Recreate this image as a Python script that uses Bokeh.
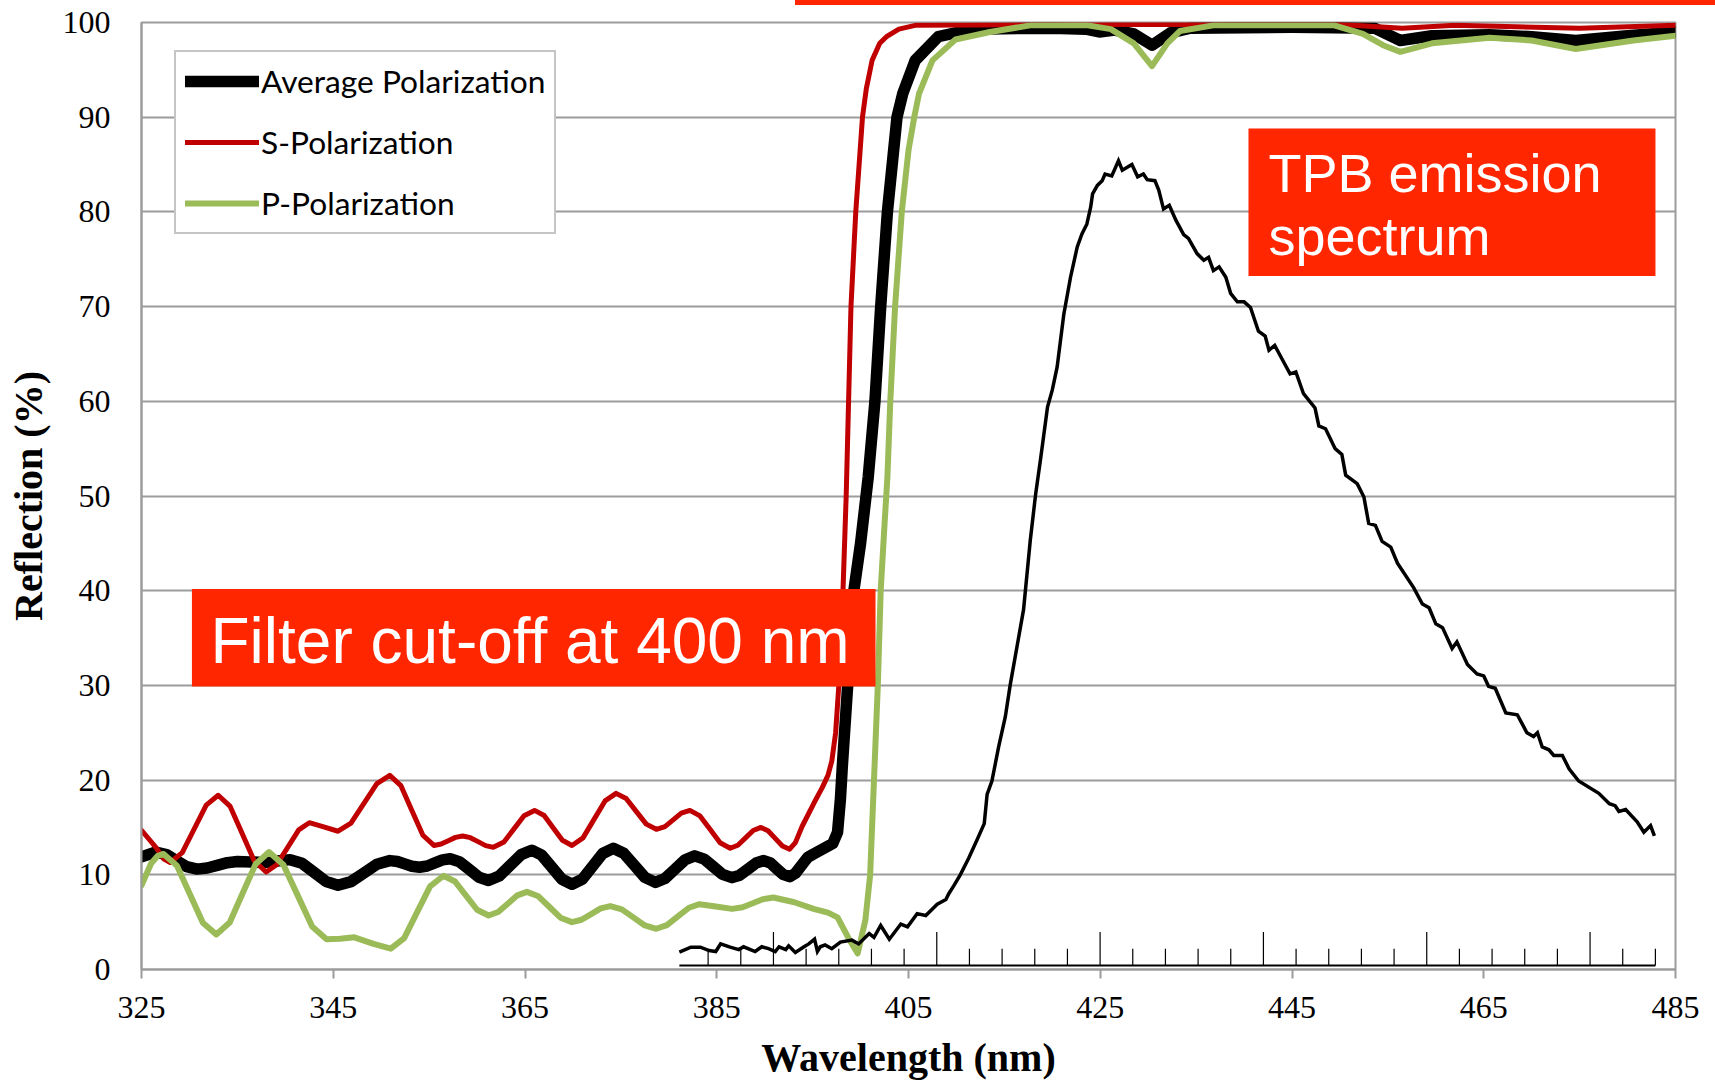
from bokeh.plotting import figure
from bokeh.layouts import column
from bokeh.models import Range1d, FixedTicker, Label, BoxAnnotation, Legend, LegendItem, Div
from bokeh.embed import file_html
from bokeh.resources import INLINE

# ---------------- data ----------------
# Average polarization reflection (%)
avg_wl = [325.0, 326.5, 327.6, 328.65, 329.7, 330.8, 331.85, 332.9, 333.95, 335.0, 336.4, 337.8,
          339.15, 340.5, 341.75, 343.0, 344.25, 345.5, 346.85, 348.2, 349.55, 350.9, 351.7, 352.45,
          353.2, 354.0, 354.8, 355.6, 356.4, 357.2, 358.2, 359.2, 360.2, 361.2, 362.3, 363.45,
          364.6, 365.7, 366.75, 367.8, 368.85, 369.9, 371.0, 372.05, 373.1, 374.2, 375.3, 376.4,
          377.5, 378.6, 379.6, 380.65, 381.7, 382.7, 383.7, 384.65, 385.6, 386.6, 387.4, 388.25,
          389.1, 389.9, 390.6, 391.25, 391.9, 392.6, 393.2, 393.85, 394.5, 395.1, 396.1, 397.1,
          397.6, 397.9, 398.1, 398.7, 399.3, 400.0, 400.8, 401.5, 402.1, 402.8, 403.8, 404.4,
          405.7, 408.1, 411.7, 420.0, 423.5, 424.9, 426.5, 428.5, 430.4, 432.3, 434.4, 445.0,
          453.6, 456.3, 459.6, 465.6, 470.0, 474.6, 480.0, 485.0]
avg_val = [11.9, 12.4, 12.14, 11.5, 10.86, 10.6, 10.72, 11.0, 11.28, 11.4, 11.35, 11.3,
           11.45, 11.6, 11.21, 10.25, 9.29, 8.9, 9.28, 10.2, 11.12, 11.5, 11.4, 11.15,
           10.9, 10.8, 10.93, 11.25, 11.57, 11.7, 11.36, 10.55, 9.74, 9.4, 9.87, 11.0,
           12.13, 12.6, 12.07, 10.8, 9.53, 9.0, 9.55, 10.9, 12.25, 12.8, 12.27, 11.0,
           9.73, 9.2, 9.61, 10.6, 11.59, 12.0, 11.66, 10.85, 10.04, 9.7, 9.96, 10.6,
           11.24, 11.5, 11.25, 10.65, 10.05, 9.8, 10.15, 11.0, 11.85, 12.2, 12.75, 13.3,
           14.5, 18.0, 21.5, 30.7, 40.0, 45.0, 52.0, 60.0, 70.0, 80.0, 90.0, 92.5,
           96.0, 98.5, 99.3, 99.4, 99.3, 99.0, 99.2, 98.8, 97.6, 98.9, 99.4, 99.5,
           99.4, 98.1, 98.6, 98.7, 98.5, 98.1, 98.6, 99.0]

# S-polarization reflection (%)
s_wl = [325.0, 326.5, 327.3, 328.0, 329.25, 330.5, 331.75, 333.0, 334.25, 335.5, 336.75, 338.0,
        339.1, 340.25, 341.4, 342.5, 344.0, 345.5, 346.85, 348.2, 349.55, 350.9, 352.05, 353.2,
        354.35, 355.5, 356.25, 357.0, 357.75, 358.5, 359.3, 360.1, 360.9, 361.7, 362.8, 363.85,
        364.9, 366.0, 367.0, 367.95, 368.9, 369.9, 371.05, 372.2, 373.35, 374.5, 375.55, 376.6,
        377.65, 378.7, 379.6, 380.45, 381.3, 382.2, 383.25, 384.3, 385.35, 386.4, 387.2, 388.0,
        388.8, 389.6, 390.35, 391.1, 391.85, 392.6, 393.2, 393.9, 395.1, 396.0, 396.6, 397.0,
        397.4, 397.8, 398.1, 398.3, 398.5, 398.8, 399.0, 399.5, 400.2, 400.6, 401.2, 402.0,
        402.7, 404.0, 405.7, 420.0, 450.0, 456.5, 462.0, 475.0, 485.0]
s_val = [14.7, 12.9, 11.7, 11.3, 12.34, 14.85, 17.36, 18.4, 17.22, 14.35, 11.48, 10.3,
         11.06, 12.9, 14.74, 15.5, 15.05, 14.6, 15.46, 17.55, 19.64, 20.5, 19.42, 16.8,
         14.18, 13.1, 13.25, 13.6, 13.95, 14.1, 13.92, 13.5, 13.08, 12.9, 13.47, 14.85,
         16.23, 16.8, 16.26, 14.95, 13.64, 13.1, 13.9, 15.85, 17.8, 18.6, 18.05, 16.7,
         15.35, 14.8, 15.09, 15.8, 16.51, 16.8, 16.22, 14.8, 13.38, 12.8, 13.12, 13.9,
         14.68, 15.0, 14.66, 13.85, 13.04, 12.7, 13.4, 15.1, 17.5, 19.2, 20.5, 22.0,
         25.0, 31.0, 38.0, 44.0, 50.0, 62.0, 70.0, 80.0, 90.0, 93.0, 96.0, 97.8,
         98.5, 99.3, 99.7, 99.8, 99.8, 99.4, 99.7, 99.4, 99.7]

# P-polarization reflection (%)
p_wl = [325.0, 326.0, 326.7, 327.3, 328.7, 330.05, 331.4, 332.8, 334.2, 335.55, 336.9, 338.3,
        339.8, 341.3, 342.8, 344.3, 345.7, 347.2, 349.2, 351.0, 352.4, 353.75, 355.1, 356.5,
        357.7, 358.85, 360.0, 361.2, 362.2, 363.2, 364.2, 365.2, 366.4, 367.55, 368.7, 369.9,
        370.9, 371.9, 372.9, 373.9, 375.1, 376.3, 377.5, 378.7, 379.8, 380.95, 382.1, 383.2,
        384.9, 386.6, 387.7, 388.75, 389.8, 390.9, 393.1, 395.1, 396.6, 397.6, 398.8, 399.7,
        400.5, 401.0, 401.4, 401.8, 402.1, 402.5, 402.8, 403.1, 403.6, 404.3, 405.0, 405.6,
        406.1, 407.5, 409.9, 413.5, 417.7, 423.7, 426.1, 428.5, 430.4, 432.0, 433.3, 436.8,
        449.4, 452.4, 454.5, 456.3, 459.6, 465.6, 470.0, 474.6, 480.6, 485.0]
p_val = [8.9, 11.2, 12.0, 12.2, 10.96, 7.95, 4.94, 3.7, 4.97, 8.05, 11.13, 12.4,
         11.06, 7.8, 4.54, 3.2, 3.25, 3.4, 2.7, 2.2, 3.32, 6.05, 8.78, 9.9,
         9.29, 7.8, 6.31, 5.7, 6.07, 6.95, 7.83, 8.2, 7.73, 6.6, 5.47, 5.0,
         5.25, 5.85, 6.45, 6.7, 6.35, 5.5, 4.65, 4.3, 4.68, 5.6, 6.52, 6.9,
         6.65, 6.4, 6.58, 7.0, 7.42, 7.6, 7.1, 6.4, 6.0, 5.5, 3.2, 1.7,
         5.2, 10.0, 20.0, 30.0, 40.0, 47.0, 52.0, 60.0, 70.0, 80.0, 86.5, 90.0,
         92.5, 96.0, 98.2, 99.0, 99.7, 99.7, 99.3, 97.8, 95.4, 97.8, 99.1, 99.7,
         99.7, 98.8, 97.6, 96.9, 97.8, 98.4, 98.1, 97.2, 98.1, 98.6]

# TPB emission spectrum (arbitrary units, drawn on the reflection scale)
em_wl = [381.1, 382.3, 383.3, 384.2, 384.9, 385.4, 386.4, 387.3, 387.8, 389.0, 389.7, 390.4,
         391.1, 391.5, 392.2, 392.5, 393.2, 394.1, 394.6, 395.2, 395.5, 395.8, 396.3, 397.0,
         397.9, 399.1, 399.8, 400.9, 401.4, 402.1, 403.0, 404.2, 404.9, 405.9, 406.8, 408.0,
         408.9, 409.2, 409.7, 410.4, 411.3, 412.2, 412.9, 413.2, 413.7, 414.4, 415.1, 415.6,
         416.3, 417.0, 417.7, 418.25, 418.8, 419.5, 420.0, 420.5, 421.2, 421.9, 422.6, 423.1,
         423.6, 424.0, 424.2, 424.7, 425.2, 425.5, 426.2, 426.9, 427.3, 428.3, 428.9, 429.5,
         429.9, 430.7, 431.1, 431.6, 432.2, 432.9, 433.7, 434.2, 435.1, 435.8, 436.3, 436.8,
         437.4, 438.1, 438.6, 439.3, 440.0, 440.67, 441.5, 442.2, 442.6, 443.2, 444.1, 444.8,
         445.4, 446.2, 447.4, 447.8, 448.5, 449.5, 450.2, 450.6, 451.8, 452.5, 453.0, 453.7,
         454.4, 455.3, 456.0, 457.7, 458.6, 459.3, 460.0, 460.7, 461.7, 462.2, 463.3, 464.3,
         465.0, 465.5, 466.2, 467.3, 468.5, 469.5, 470.2, 470.6, 471.1, 471.8, 472.3, 473.2,
         473.9, 474.9, 477.0, 478.1, 478.7, 479.1, 479.8, 481.0, 481.7, 482.4, 482.8]
em_val = [1.83, 2.36, 2.36, 2.0, 1.9, 2.7, 2.36, 2.1, 2.4, 1.9, 2.4, 2.2,
          1.9, 2.4, 2.1, 2.5, 1.8, 2.4, 2.7, 3.2, 1.9, 2.4, 2.6, 2.2,
          2.9, 3.1, 2.7, 3.8, 3.4, 4.65, 3.2, 4.8, 4.5, 5.9, 5.7, 6.9,
          7.4, 8.0, 8.8, 10.0, 11.8, 13.8, 15.4, 18.5, 19.9, 23.5, 26.7, 30.0,
          34.0, 38.0, 45.3, 50.1, 54.1, 59.4, 61.2, 63.6, 69.2, 73.1, 76.3, 77.7,
          78.7, 80.5, 81.9, 82.8, 83.3, 84.0, 83.8, 85.4, 84.4, 85.0, 83.7, 84.0,
          83.4, 83.3, 82.3, 80.3, 80.7, 79.1, 77.6, 77.2, 75.6, 74.9, 75.2, 73.8,
          74.2, 73.1, 71.4, 70.5, 70.5, 69.9, 67.4, 66.9, 65.4, 65.9, 64.2, 62.9,
          63.1, 60.8, 59.3, 57.4, 57.1, 55.0, 54.4, 52.2, 51.3, 49.9, 47.1, 46.9,
          45.2, 44.6, 42.9, 40.3, 38.6, 38.2, 36.5, 36.1, 33.9, 34.6, 32.2, 31.2,
          31.0, 29.9, 29.7, 27.1, 26.9, 25.0, 24.6, 25.0, 23.5, 23.2, 22.6, 22.6,
          21.2, 19.9, 18.6, 17.5, 17.3, 16.7, 16.9, 15.6, 14.5, 15.2, 14.1]

# inset (emission spectrum) axis of the pasted graph
em_axis_from, em_axis_to, em_axis_level = 381.1, 482.9, 0.42
em_tick_first, em_tick_step, em_tick_count = 384.1, 3.407, 30
em_minor_top, em_major_top = 2.2, 3.95

x_ticks = [325, 345, 365, 385, 405, 425, 445, 465, 485]
y_ticks = [0, 10, 20, 30, 40, 50, 60, 70, 80, 90, 100]

GRAY = "#9c9c9c"
RED = "#FF2600"

# ---------------- thin red strip above the chart (part of the slide) ----------------
STRIP_H = 5
strip = Div(text="", width=1715, height=STRIP_H, margin=0,
            styles={"background-color": "#ffffff",
                    "background-image": ("linear-gradient(to right, #ffffff 0px, #ffffff 795px, "
                                         "%s 795px, %s 100%%)" % (RED, RED)),
                    "font-size": "0px", "line-height": "0px", "padding": "0px"})

# ---------------- main chart ----------------
p = figure(width=1715, height=1082 - STRIP_H, output_backend="svg", toolbar_location=None,
           x_range=Range1d(325, 485), y_range=Range1d(0, 100),
           min_border_left=141, min_border_right=40, min_border_top=22 - STRIP_H,
           min_border_bottom=113, margin=0)
p.background_fill_color = "white"
p.border_fill_color = "white"
p.outline_line_color = GRAY
p.outline_line_width = 2

p.xgrid.visible = False
p.ygrid.grid_line_color = GRAY
p.ygrid.grid_line_width = 2
p.ygrid.ticker = FixedTicker(ticks=y_ticks)

p.xaxis.ticker = FixedTicker(ticks=x_ticks)
p.yaxis.ticker = FixedTicker(ticks=y_ticks)
for ax in (p.xaxis[0], p.yaxis[0]):
    ax.axis_line_color = GRAY
    ax.axis_line_width = 2
    ax.major_tick_line_color = GRAY
    ax.major_tick_line_width = 2
    ax.minor_tick_line_color = None
    ax.major_tick_in = 0
    ax.major_label_text_font = "Liberation Serif"
    ax.major_label_text_font_size = "32px"
    ax.major_label_text_color = "black"
    ax.axis_label_text_font = "Liberation Serif"
    ax.axis_label_text_font_size = "40px"
    ax.axis_label_text_font_style = "bold"
    ax.axis_label_text_color = "black"
p.xaxis.major_tick_out = 9
p.xaxis.major_label_standoff = 18
p.xaxis.axis_label = "Wavelength (nm)"
p.xaxis.axis_label_standoff = 14
p.yaxis.major_tick_out = 0
p.yaxis.major_label_standoff = 31
p.yaxis.axis_label = "Reflection (%)"
p.yaxis.axis_label_standoff = 9

r_avg = p.line(avg_wl, avg_val, line_color="black", line_width=11.5, line_join="round", line_cap="round")
r_s = p.line(s_wl, s_val, line_color="#C00000", line_width=5, line_join="round", line_cap="round")
r_p = p.line(p_wl, p_val, line_color="#9BBB59", line_width=6, line_join="round", line_cap="round")

# emission spectrum with its inset axis
p.segment(x0=[em_axis_from], y0=[em_axis_level], x1=[em_axis_to], y1=[em_axis_level],
          line_color="black", line_width=2)
tick_x = [em_tick_first + k * em_tick_step for k in range(em_tick_count)]
tick_top = [em_major_top if k % 5 == 2 else em_minor_top for k in range(em_tick_count)]
p.segment(x0=tick_x, y0=[em_axis_level] * em_tick_count, x1=tick_x, y1=tick_top,
          line_color="black", line_width=1.2)
p.line(em_wl, em_val, line_color="black", line_width=3.5, line_join="miter")

# legend
legend = Legend(items=[LegendItem(label="Average Polarization", renderers=[r_avg]),
                       LegendItem(label="S-Polarization", renderers=[r_s]),
                       LegendItem(label="P-Polarization", renderers=[r_p])],
                location=(33, 735))
legend.label_text_font = "Lato"
legend.label_text_font_size = "31.7px"
legend.label_text_color = "black"
legend.glyph_width = 74
legend.glyph_height = 40
legend.label_height = 40
legend.label_standoff = 2
legend.spacing = 21
legend.padding = 9
legend.margin = 0
legend.border_line_color = "#8c8c8c"
legend.border_line_width = 2
legend.background_fill_color = "white"
legend.background_fill_alpha = 1
p.add_layout(legend)

# red annotation boxes
p.add_layout(BoxAnnotation(left=330.26, right=401.56, bottom=29.88, top=40.18,
                           fill_color=RED, fill_alpha=1, line_color=None))
p.add_layout(BoxAnnotation(left=440.46, right=482.91, bottom=73.22, top=88.81,
                           fill_color=RED, fill_alpha=1, line_color=None))

p.add_layout(Label(x=332.2, y=34.74, text="Filter cut-off at 400 nm", text_color="white",
                   text_font="Liberation Sans", text_font_size="64px", text_baseline="middle"))
p.add_layout(Label(x=442.55, y=84.1, text="TPB emission", text_color="white",
                   text_font="Liberation Sans", text_font_size="54px", text_baseline="middle"))
p.add_layout(Label(x=442.55, y=77.5, text="spectrum", text_color="white",
                   text_font="Liberation Sans", text_font_size="54px", text_baseline="middle"))

layout = column(strip, p, spacing=0)
open("out.html", "w").write(file_html(layout, INLINE))
